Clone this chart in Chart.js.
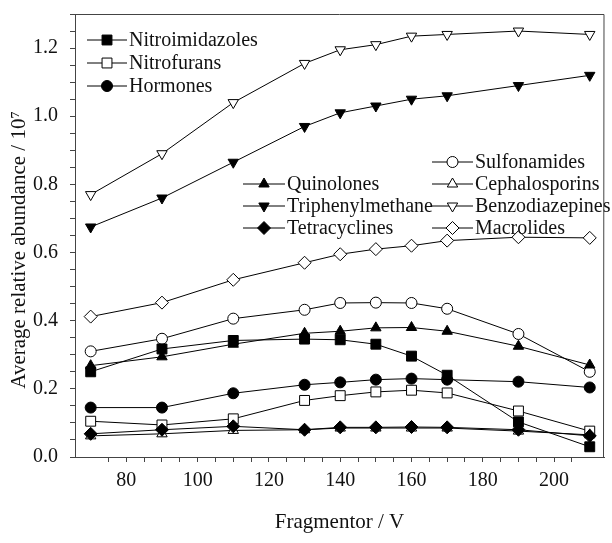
<!DOCTYPE html>
<html>
<head>
<meta charset="utf-8">
<script src="https://cdn.jsdelivr.net/npm/chart.js@4/dist/chart.umd.min.js"></script>
<style>
  html, body { margin: 0; padding: 0; background: #fff; }
  #wrap { width: 612px; height: 543px; }
</style>
</head>
<body>
<div id="wrap"><canvas id="chart" width="612" height="543"></canvas></div>
<script>
// fragmentor voltages (x)
const fragmentor = [70, 90, 110, 130, 140, 150, 160, 170, 190, 210];

// average relative abundance / 10^7
const nitroimidazoles  = [0.250, 0.317, 0.342, 0.346, 0.344, 0.331, 0.296, 0.240, 0.103, 0.030];
const nitrofurans      = [0.105, 0.094, 0.112, 0.166, 0.180, 0.191, 0.196, 0.188, 0.135, 0.076];
const hormones         = [0.145, 0.145, 0.187, 0.212, 0.219, 0.227, 0.230, 0.227, 0.221, 0.204];
const sulfonamides     = [0.310, 0.347, 0.406, 0.432, 0.452, 0.453, 0.452, 0.435, 0.361, 0.250];
const quinolones       = [0.268, 0.294, 0.331, 0.363, 0.369, 0.379, 0.380, 0.369, 0.325, 0.270];
const cephalosporins   = [0.062, 0.068, 0.078, 0.080, 0.085, 0.085, 0.085, 0.085, 0.076, 0.065];
const triphenylmethane = [0.675, 0.760, 0.865, 0.970, 1.010, 1.030, 1.050, 1.060, 1.090, 1.120];
const benzodiazepines  = [0.770, 0.890, 1.040, 1.155, 1.195, 1.210, 1.235, 1.240, 1.250, 1.240];
const tetracyclines    = [0.068, 0.080, 0.090, 0.080, 0.087, 0.087, 0.088, 0.087, 0.080, 0.062];
const macrolides       = [0.412, 0.453, 0.520, 0.570, 0.595, 0.610, 0.620, 0.635, 0.645, 0.643];

const xTitle = 'Fragmentor / V';
const yTitle = 'Average relative abundance / 10\u2077';

const FONT = '"Liberation Serif", "Times New Roman", serif';
const FSIZE = 20;

function series(label, values, style, filled, radius, rotation) {
    return {
        label: label,
        data: fragmentor.map((x, i) => ({ x: x, y: values[i] })),
        borderColor: '#000',
        borderWidth: 1,
        pointStyle: style,
        pointRotation: rotation || 0,
        pointRadius: radius,
        pointHoverRadius: radius,
        pointBorderWidth: 1,
        pointBorderColor: '#000',
        pointBackgroundColor: filled ? '#000' : '#fff',
        tension: 0,
        fill: false
    };
}

const datasets = [
    series('Tetracyclines', tetracyclines, 'rectRot', true, 6.5),
    series('Cephalosporins', cephalosporins, 'triangle', false, 6),
    series('Nitrofurans', nitrofurans, 'rect', false, 7),
    series('Hormones', hormones, 'circle', true, 5.5),
    series('Nitroimidazoles', nitroimidazoles, 'rect', true, 7),
    series('Quinolones', quinolones, 'triangle', true, 6),
    series('Sulfonamides', sulfonamides, 'circle', false, 5.5),
    series('Macrolides', macrolides, 'rectRot', false, 6.5),
    series('Triphenylmethane', triphenylmethane, 'triangle', true, 6, 180),
    series('Benzodiazepines', benzodiazepines, 'triangle', false, 6, 180)
];

// legend layout: [label, lineStart, lineEnd, y]
const legendItems = [
    ['Nitroimidazoles', 87, 127, 40],
    ['Nitrofurans', 87, 127, 63],
    ['Hormones', 87, 127, 86],
    ['Sulfonamides', 432, 473, 162],
    ['Quinolones', 243, 285, 184],
    ['Cephalosporins', 432, 473, 184],
    ['Triphenylmethane', 243, 285, 206],
    ['Benzodiazepines', 432, 473, 206],
    ['Tetracyclines', 243, 285, 228],
    ['Macrolides', 432, 473, 228]
];

const legendPlugin = {
    id: 'boxLegend',
    afterDraw: (chart) => {
        const ctx = chart.ctx;
        ctx.save();
        ctx.font = FSIZE + 'px ' + FONT;
        ctx.textBaseline = 'middle';
        ctx.textAlign = 'left';
        legendItems.forEach(([label, x0, x1, y]) => {
            const ds = chart.data.datasets.find(d => d.label === label);
            ctx.beginPath();
            ctx.strokeStyle = '#000';
            ctx.lineWidth = 1;
            ctx.moveTo(x0, y);
            ctx.lineTo(x1, y);
            ctx.stroke();
            ctx.fillStyle = ds.pointBackgroundColor;
            ctx.strokeStyle = '#000';
            Chart.helpers.drawPoint(ctx, {
                pointStyle: ds.pointStyle,
                rotation: ds.pointRotation,
                radius: ds.pointRadius,
                borderWidth: 1
            }, (x0 + x1) / 2, y);
            ctx.fillStyle = '#111';
            ctx.fillText(label, x1 + 2, y + 1);
        });
        ctx.restore();
    }
};

// top/right frame lines and the rotated y title
const framePlugin = {
    id: 'frame',
    afterDraw: (chart) => {
        const { ctx, chartArea } = chart;
        ctx.save();
        ctx.strokeStyle = '#444';
        ctx.lineWidth = 1;
        ctx.beginPath();
        ctx.moveTo(chartArea.left, chartArea.top + 0.5);
        ctx.lineTo(chartArea.right, chartArea.top + 0.5);
        ctx.lineTo(chartArea.right - 0.5, chartArea.bottom);
        ctx.stroke();

        ctx.translate(19, 250);
        ctx.rotate(-Math.PI / 2);
        ctx.font = '21px ' + FONT;
        ctx.fillStyle = '#111';
        ctx.textAlign = 'center';
        ctx.textBaseline = 'middle';
        ctx.fillText(yTitle, 0, 0);
        ctx.restore();
    }
};

new Chart(document.getElementById('chart'), {
    type: 'line',
    data: { datasets: datasets },
    options: {
        responsive: false,
        animation: false,
        devicePixelRatio: 1,
        layout: { padding: { top: 14, right: 1, left: 0, bottom: 0 } },
        plugins: {
            legend: { display: false },
            tooltip: { enabled: false }
        },
        scales: {
            x: {
                type: 'linear',
                min: 65.6,
                max: 214,
                afterBuildTicks: (scale) => {
                    scale.ticks = scale.ticks.filter(t => t.value % 5 === 0);
                },
                afterFit: (scale) => {
                    scale.height = 86;
                    scale.paddingLeft = 0;
                    scale.paddingRight = 0;
                },
                ticks: {
                    stepSize: 5,
                    autoSkip: false,
                    maxRotation: 0,
                    padding: 7,
                    color: '#111',
                    font: { family: FONT, size: FSIZE },
                    callback: (v) => (v % 20 === 0 ? String(v) : '')
                },
                grid: {
                    drawOnChartArea: false,
                    tickLength: 5,
                    tickColor: '#444'
                },
                border: { color: '#444', width: 1 },
                title: {
                    display: true,
                    text: xTitle,
                    color: '#111',
                    font: { family: FONT, size: 21 },
                    padding: { top: 4, bottom: 8 }
                }
            },
            y: {
                min: 0,
                max: 1.3,
                afterFit: (scale) => {
                    scale.width = 75;
                    scale.paddingTop = 0;
                    scale.paddingBottom = 0;
                },
                ticks: {
                    stepSize: 0.05,
                    autoSkip: false,
                    padding: 12,
                    color: '#111',
                    font: { family: FONT, size: FSIZE },
                    callback: (v) => {
                        const k = v / 0.2;
                        return Math.abs(k - Math.round(k)) < 1e-6 ? v.toFixed(1) : '';
                    }
                },
                grid: {
                    drawOnChartArea: false,
                    tickLength: 5,
                    tickColor: '#444'
                },
                border: { color: '#444', width: 1 },
                title: { display: false }
            }
        }
    },
    plugins: [legendPlugin, framePlugin]
});
</script>
</body>
</html>
